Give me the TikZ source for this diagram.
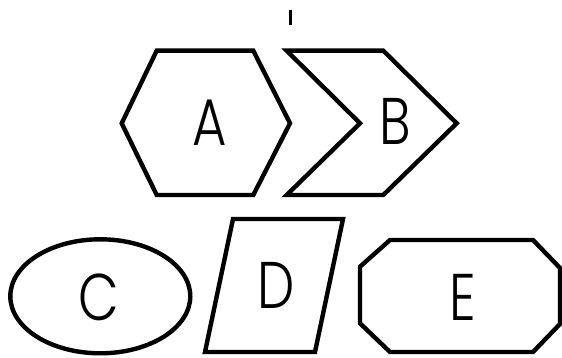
\documentclass[tikz,border=0pt]{standalone}
\usepackage{fontspec}
\setmainfont{Poppins Light}[FakeStretch=0.8]
\begin{document}
\begin{tikzpicture}[x=1pt,y=1pt,
  shapeline/.style={draw=black,line width=4.4pt,line join=miter},
  letter/.style={inner sep=0pt,font=\fontsize{66}{66}\selectfont}]
\useasboundingbox (0,0) rectangle (562,358);
% tick mark
\draw[line width=3pt] (290,348) -- (290,333);
% A hexagon
\draw[shapeline] (156.7,307.3) -- (253.3,307.3) -- (290,234.7) -- (253.3,163) -- (156.7,163) -- (121.7,234.7) -- cycle;
\node[letter] (A) at (210,235.5) {A};
% B chevron
\draw[shapeline] (286.7,307.3) -- (383.3,307.3) -- (456.7,234.7) -- (383.3,163) -- (286.7,163) -- (360,234.7) -- cycle;
\node[letter] (B) at (395.5,236.5) {B};
% C ellipse
\draw[shapeline] (100.3,61.7) ellipse [x radius=90, y radius=57];
\node[letter] (C) at (99,61) {C};
% D parallelogram
\draw[shapeline] (233,139) -- (343,139) -- (315,6) -- (205,6) -- cycle;
\node[letter] (D) at (276,73) {D};
% E octagon
\draw[shapeline] (390,118) -- (533,118) -- (560,90) -- (560,34) -- (533,6) -- (390,6) -- (360,34.7) -- (360,91.3) -- cycle;
\node[letter] (E) at (463,60.5) {E};
\end{tikzpicture}
\end{document}
